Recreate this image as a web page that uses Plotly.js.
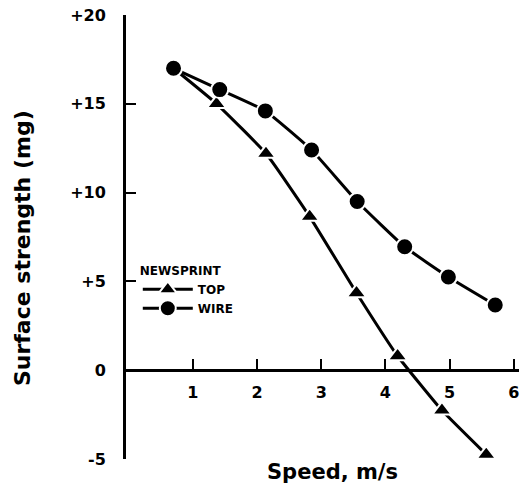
<!DOCTYPE html>
<html><head><meta charset="utf-8">
<script src="https://cdn.plot.ly/plotly-3.0.1.min.js"></script>
<style>html,body{margin:0;padding:0;background:#fff}#chart{width:521px;height:491px}</style>
</head><body><div id="chart"></div>
<script>
const topSpeed = [0.70, 1.37, 2.14, 2.82, 3.55, 4.19, 4.88, 5.57];
const topStrength = [17.0, 15.0, 12.2, 8.65, 4.35, 0.8, -2.26, -4.75];
const wireSpeed = [0.70, 1.42, 2.13, 2.85, 3.56, 4.30, 4.98, 5.71];
const wireStrength = [17.0, 15.8, 14.6, 12.4, 9.5, 6.95, 5.25, 3.67];
const yTickVals = [-5, 0, 5, 10, 15, 20];
const yTickText = ['-5', '0', '+5', '+10', '+15', '+20'];
const xTickVals = [1, 2, 3, 4, 5, 6];
const seriesNames = ['TOP', 'WIRE'];

const FONT = 'DejaVu Sans, Liberation Sans, sans-serif';
const traces = [
  {x: topSpeed, y: topStrength, name: seriesNames[0], mode: 'lines+markers',
   line: {color: 'black', width: 3, shape: 'spline', smoothing: 0.4},
   marker: {symbol: 'triangle-up', size: 17, color: 'black', line: {color: 'white', width: 2}}},
  {x: wireSpeed, y: wireStrength, name: seriesNames[1], mode: 'lines+markers',
   line: {color: 'black', width: 3, shape: 'spline', smoothing: 0.4},
   marker: {symbol: 'circle', size: 17, color: 'black', line: {color: 'white', width: 2}}}
];
const layout = {
  width: 521, height: 491,
  margin: {l: 126, r: 2, t: 15, b: 32},
  paper_bgcolor: 'white', plot_bgcolor: 'white',
  font: {family: FONT, color: 'black', weight: 'bold'},
  showlegend: true,
  legend: {x: 0.03, y: 0.45, xanchor: 'left', yanchor: 'top', bgcolor: 'rgba(0,0,0,0)',
    font: {size: 12, family: FONT, weight: 'bold'},
    title: {text: 'NEWSPRINT', font: {size: 12, family: FONT, weight: 'bold'}},
    itemwidth: 50, tracegroupgap: 0},
  xaxis: {range: [-0.04, 6.08], anchor: 'free', position: 0.2,
    showline: true, linewidth: 3, linecolor: 'black', showgrid: false, zeroline: false,
    ticks: 'inside', ticklen: 10, tickwidth: 2, tickcolor: 'black',
    tickvals: xTickVals, ticklabelstandoff: 7,
    tickfont: {size: 16, family: FONT, weight: 'bold'}},
  yaxis: {range: [-5, 20], domain: [0, 1],
    showline: true, linewidth: 3, linecolor: 'black', showgrid: false, zeroline: false,
    ticks: 'inside', ticklen: 10, tickwidth: 2, tickcolor: 'black',
    tickvals: yTickVals, ticktext: yTickText, ticklabelstandoff: 14,
    tickfont: {size: 16, family: FONT, weight: 'bold'}},
  annotations: [
    {text: 'Speed, m/s', xref: 'paper', yref: 'paper', x: 0.525, y: 0, yshift: -13,
     xanchor: 'center', yanchor: 'middle', showarrow: false,
     font: {size: 21, family: FONT, weight: 'bold'}},
    {text: 'Surface strength (mg)', xref: 'paper', yref: 'paper', x: 0, y: 0.475, xshift: -104,
     xanchor: 'center', yanchor: 'middle', textangle: -90, showarrow: false,
     font: {size: 22, family: FONT, weight: 'bold'}}
  ]
};
Plotly.newPlot('chart', traces, layout, {displayModeBar: false, staticPlot: true});
</script></body></html>
